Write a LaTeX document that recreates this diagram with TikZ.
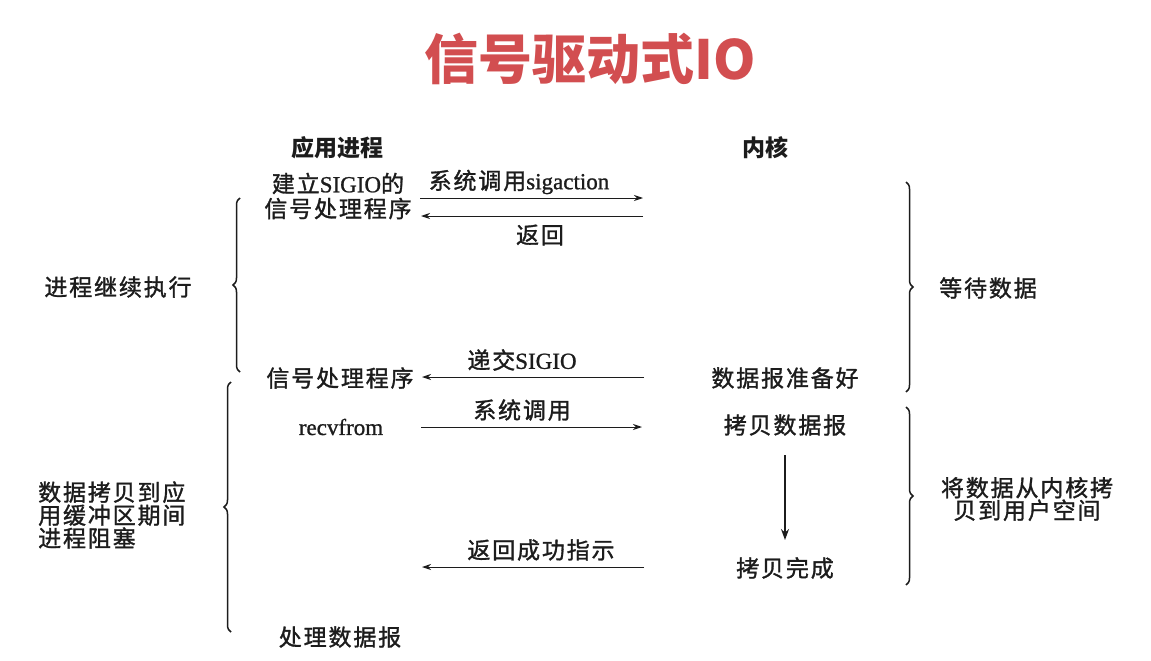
\documentclass[tikz,border=0pt]{standalone}
\usepackage{fontspec}
\setmainfont{Liberation Serif}[FakeBold=1]
\newfontfamily\cjk{Noto Sans CJK SC}[LetterSpace=8, FakeBold=1.3]
\newfontfamily\cjkt{Noto Sans CJK SC}
\usetikzlibrary{arrows.meta,decorations.pathreplacing}
\definecolor{titlered}{RGB}{210,78,80}
\definecolor{ink}{RGB}{28,28,28}
\begin{document}
\begin{tikzpicture}[x=1pt,y=-1pt,
  lbl/.style={font=\fontsize{23}{24}\selectfont, text=ink, inner sep=0pt, align=center},
  hdr/.style={font=\cjkt\bfseries\fontsize{23}{24}\selectfont, text=ink, inner sep=0pt},
  msg/.style={draw=ink, line width=1pt, -{Stealth[length=9pt,width=6pt]}},
  flow/.style={draw=ink, line width=1.5pt, -{Stealth[length=11pt,width=8pt]}},
  brc/.style={draw=ink, line width=1.5pt, decorate, decoration={brace, amplitude=7pt}}]
\useasboundingbox (0,0) rectangle (1151,661);
\fill[white] (0,0) rectangle (1151,661);

% title
\node[font=\cjkt\bfseries\fontsize{54}{58}\selectfont, text=titlered, inner sep=0pt] (title) at (590,59) {信号驱动式IO};

% headers
\node[hdr] (app) at (337,148) {应用进程};
\node[hdr] (kern) at (765,148) {内核};

% application side
\node[lbl] (setup) at (338,196) {{\cjk 建立}SIGIO{\cjk 的}\\[1pt]{\cjk 信号处理程序}};
\node[lbl] (handler) at (340,378) {\cjk 信号处理程序};
\node[lbl] (recv) at (341,427) {recvfrom};
\node[lbl] (proc) at (340,637) {\cjk 处理数据报};

% kernel side
\node[lbl] (ready) at (785,378) {\cjk 数据报准备好};
\node[lbl] (copy) at (785,425) {\cjk 拷贝数据报};
\node[lbl] (done) at (785,568) {\cjk 拷贝完成};

% message labels
\node[lbl] (m1) at (519,182) {{\cjk 系统调用}sigaction};
\node[lbl] (m2) at (540,235) {\cjk 返回};
\node[lbl] (m3) at (522,360) {{\cjk 递交}SIGIO};
\node[lbl] (m4) at (522,410) {\cjk 系统调用};
\node[lbl] (m5) at (541,550) {\cjk 返回成功指示};

% arrow end points
\coordinate (a1s) at (420,198); \coordinate (a1e) at (643,198);
\coordinate (a2s) at (643,216); \coordinate (a2e) at (421,216);
\coordinate (a3s) at (644,377); \coordinate (a3e) at (422,377);
\coordinate (a4s) at (421,427); \coordinate (a4e) at (642,427);
\coordinate (a5s) at (644,567); \coordinate (a5e) at (422,567);
\coordinate (d1) at (785,455); \coordinate (d2) at (785,540);

\draw[msg] (a1s) -- (a1e);
\draw[msg] (a2s) -- (a2e);
\draw[msg] (a3s) -- (a3e);
\draw[msg] (a4s) -- (a4e);
\draw[msg] (a5s) -- (a5e);
\draw[flow] (d1) -- (d2);

% braces
\coordinate (lb1t) at (240,198); \coordinate (lb1b) at (240,372);
\coordinate (lb2t) at (231,382); \coordinate (lb2b) at (231,632);
\coordinate (rb1t) at (906,182); \coordinate (rb1b) at (906,392);
\coordinate (rb2t) at (906,407); \coordinate (rb2b) at (906,585);
\draw[brc] (lb1b) -- (lb1t);
\draw[brc] (lb2b) -- (lb2t);
\draw[brc] (rb1t) -- (rb1b);
\draw[brc] (rb2t) -- (rb2b);

% brace labels
\node[lbl] (cont) at (118,287) {\cjk 进程继续执行};
\node[lbl, align=left, anchor=west, font=\cjk\fontsize{23}{23}\selectfont] (block) at (38,515) {数据拷贝到应\\用缓冲区期间\\进程阻塞};
\node[lbl, font=\cjk\fontsize{23}{24}\selectfont] (wait) at (988,288) {等待数据};
\node[lbl, font=\cjk\fontsize{23}{22.5}\selectfont] (k2u) at (1027,499) {将数据从内核拷\\贝到用户空间};
\end{tikzpicture}
\end{document}
